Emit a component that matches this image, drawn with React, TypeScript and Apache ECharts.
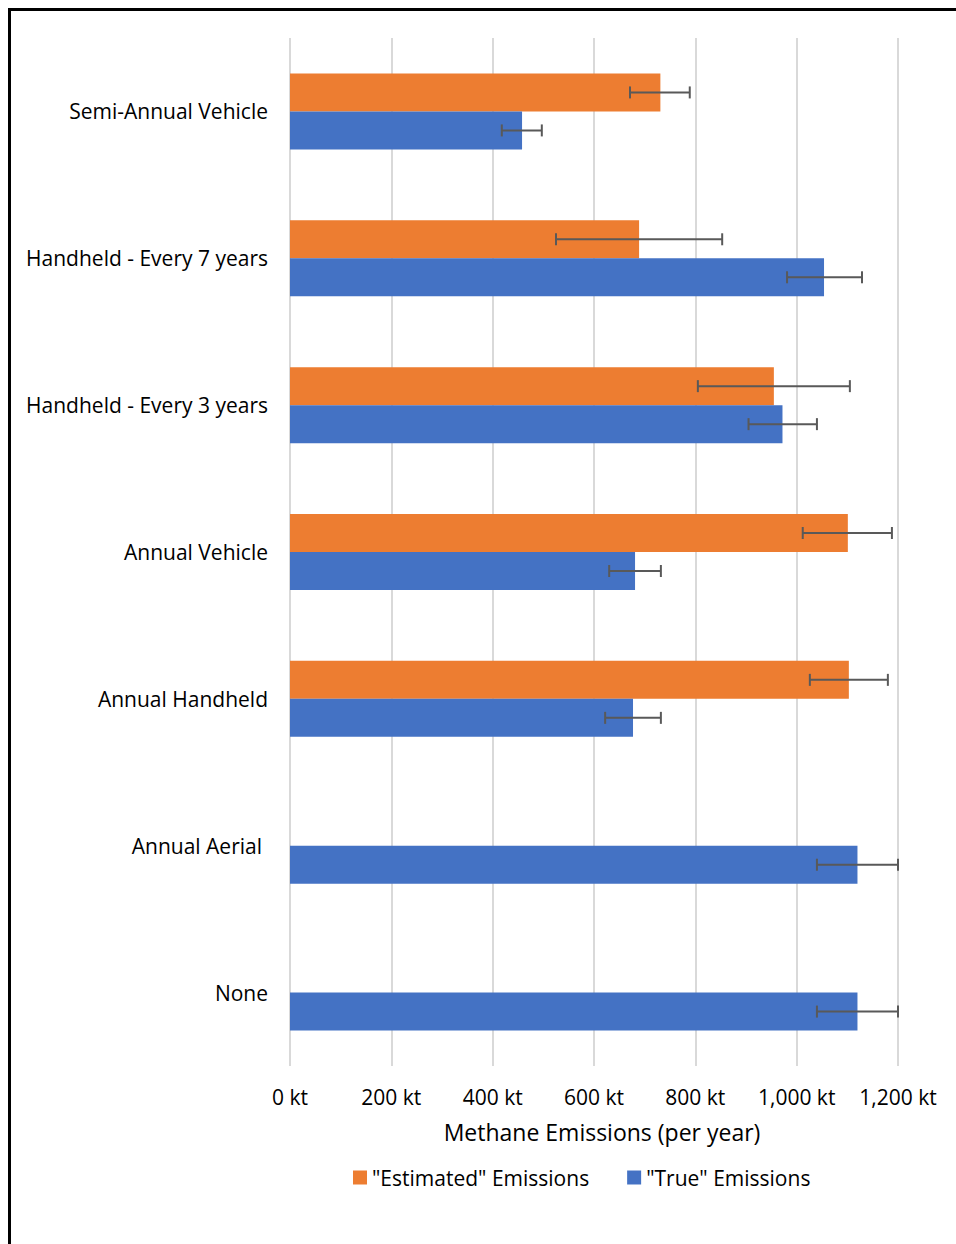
import React, { useEffect, useRef } from "react";
import * as echarts from "echarts";

const categories = [
  "Semi-Annual Vehicle",
  "Handheld - Every 7 years",
  "Handheld - Every 3 years",
  "Annual Vehicle",
  "Annual Handheld",
  "Annual Aerial",
  "None",
];
const estimated = [731, 689, 955, 1101, 1103, null, null];
const estimatedLow = [671, 525, 805, 1012, 1026, null, null];
const estimatedHigh = [789, 853, 1105, 1188, 1180, null, null];
const trueVals = [458, 1054, 972, 681, 677, 1120, 1120];
const trueLow = [418, 981, 905, 630, 622, 1040, 1040];
const trueHigh = [497, 1129, 1040, 732, 732, 1200, 1200];

const ORANGE = "#ED7D31";
const BLUE = "#4472C4";
const FONT = "Open Sans";
const BAR_W = 38;

function errData(lo: (number | null)[], hi: (number | null)[]) {
  const out: any[] = [];
  lo.forEach((l, i) => {
    if (l != null && hi[i] != null) out.push([l, hi[i], i]);
  });
  return out;
}

function makeRender(offset: number) {
  return (params: any, api: any) => {
    const lo = api.coord([api.value(0), api.value(2)]);
    const hi = api.coord([api.value(1), api.value(2)]);
    const y = lo[1] + offset;
    const cap = 6;
    const style = { stroke: "#595959", lineWidth: 2 };
    return {
      type: "group",
      children: [
        { type: "line", shape: { x1: lo[0], y1: y, x2: hi[0], y2: y }, style },
        { type: "line", shape: { x1: lo[0], y1: y - cap, x2: lo[0], y2: y + cap }, style },
        { type: "line", shape: { x1: hi[0], y1: y - cap, x2: hi[0], y2: y + cap }, style },
      ],
    };
  };
}

export default function App() {
  const ref = useRef<HTMLDivElement>(null);
  useEffect(() => {
    if (!ref.current) return;
    const chart = echarts.init(ref.current, undefined, { renderer: "svg" });
    chart.setOption({
      animation: false,
      backgroundColor: "#ffffff",
      textStyle: { fontFamily: FONT },
      grid: { left: 290, right: 58, top: 38, bottom: 178, containLabel: false },
      legend: {
        data: ['"Estimated" Emissions', '"True" Emissions'],
        left: 353,
        top: 1167,
        padding: 0,
        itemWidth: 14,
        itemHeight: 14,
        itemGap: 38,
        icon: "rect",
        textStyle: { fontFamily: FONT, fontSize: 21, color: "#000" },
      },
      xAxis: {
        type: "value",
        min: 0,
        max: 1200,
        interval: 200,
        axisLine: { show: false },
        axisTick: { show: false },
        splitLine: { show: true, lineStyle: { color: "#d9d9d9", width: 2 } },
        axisLabel: {
          margin: 20,
          fontFamily: FONT,
          fontSize: 21,
          color: "#000",
          formatter: (v: number) => `${v.toLocaleString("en-US")} kt`,
        },
        name: "Methane Emissions (per year)",
        nameLocation: "middle",
        nameGap: 54,
        nameTextStyle: { fontFamily: FONT, fontSize: 23, color: "#000", padding: [0, 0, 0, 16] },
      },
      yAxis: {
        type: "category",
        data: categories,
        inverse: true,
        axisLine: { show: false },
        axisTick: { show: false },
        axisLabel: {
          margin: 22,
          fontFamily: FONT,
          fontSize: 21,
          color: "#000",
          formatter: (v: string) => (v === "Annual Aerial" ? `{p|${v}}` : v),
          rich: { p: { fontFamily: FONT, fontSize: 21, color: "#000", padding: [0, 6, 0, 0] } },
        },
      },
      series: [
        {
          name: '"Estimated" Emissions',
          type: "bar",
          data: estimated,
          barWidth: BAR_W,
          barGap: "0%",
          itemStyle: { color: ORANGE },
        },
        {
          name: '"True" Emissions',
          type: "bar",
          data: trueVals,
          barWidth: BAR_W,
          barGap: "0%",
          itemStyle: { color: BLUE },
        },
        {
          type: "custom",
          renderItem: makeRender(-BAR_W / 2),
          data: errData(estimatedLow, estimatedHigh),
          encode: { x: [0, 1], y: 2 },
          z: 5,
        },
        {
          type: "custom",
          renderItem: makeRender(BAR_W / 2),
          data: errData(trueLow, trueHigh),
          encode: { x: [0, 1], y: 2 },
          z: 5,
        },
      ],
      graphic: [
        { type: "line", shape: { x1: 8, y1: 9.5, x2: 956, y2: 9.5 }, style: { stroke: "#000", lineWidth: 3 } },
        { type: "line", shape: { x1: 9.5, y1: 8, x2: 9.5, y2: 1244 }, style: { stroke: "#000", lineWidth: 3 } },
      ],
    });
    return () => chart.dispose();
  }, []);
  return (
    <div
      ref={ref}
      style={{ position: "absolute", left: 0, top: 0, width: 956, height: 1244 }}
    />
  );
}
